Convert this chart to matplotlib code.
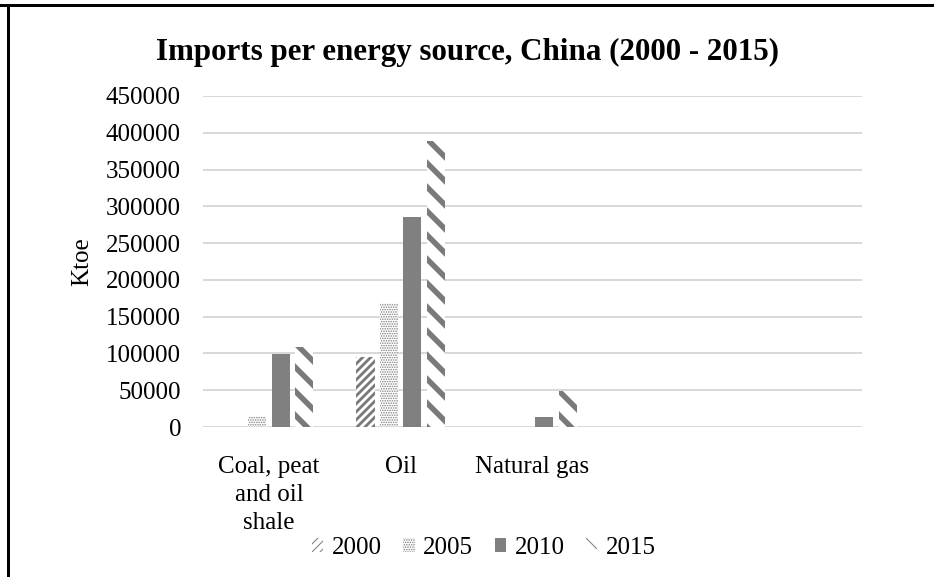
import numpy as np
import matplotlib
matplotlib.use("Agg")
import matplotlib.pyplot as plt
from matplotlib.lines import Line2D


categories = ["Coal, peat\nand oil\nshale", "Oil", "Natural gas", "", ""]
years = ["2000", "2005", "2010", "2015"]
v2000 = [0, 94500, 0]
v2005 = [14500, 168000, 0]
v2010 = [99000, 286000, 13000]
v2015 = [109000, 389000, 49000]
yticks = [0, 50000, 100000, 150000, 200000, 250000, 300000, 350000, 400000, 450000]

series = [v2000, v2005, v2010, v2015]
# (facecolor, hatch colour, hatch, hatch linewidth)
styles = [
    ("white", "#7a7a7a", "///", 2.8),
    ("white", "#7d7d7d", ".....", 1.0),
    ("#808080", "#808080", None, 1.0),
    ("white", "#7a7a7a", "\\", 5.5),
]

plt.rcParams["font.family"] = ["Liberation Serif", "DejaVu Serif"]

DPI = 72
fig = plt.figure(figsize=(934 / DPI, 577 / DPI), dpi=DPI)
ax = fig.add_axes([203 / 934, 1 - 427 / 577, 659 / 934, 331 / 577])

slot = 0.178
width = 0.137
for i, (vals, year, st) in enumerate(zip(series, years, styles)):
    face, hcol, hatch, hlw = st
    x = np.arange(len(vals)) + (i - 1.5) * slot
    with plt.rc_context({"hatch.linewidth": hlw}):
        bars = ax.bar(x, vals, width=width, color=face, edgecolor=hcol,
                      hatch=hatch, linewidth=0, label=year, zorder=3)
    for b in bars:
        if hasattr(b, "set_hatch_linewidth"):
            b.set_hatch_linewidth(hlw)

ax.set_xlim(-0.5, len(categories) - 0.5)
ax.set_ylim(0, 450000)
ax.set_yticks(yticks)
ax.set_yticklabels([str(t) for t in yticks])
ax.set_xticks(np.arange(len(categories)))
ax.set_xticklabels(categories, linespacing=1.36)
ax.tick_params(axis="both", length=0, labelsize=25, colors="#000000")
ax.tick_params(axis="y", pad=22)
ax.tick_params(axis="x", pad=29)
ax.yaxis.grid(True, color="#d9d9d9", linewidth=2, zorder=0)
ax.set_axisbelow(True)
for s in ["top", "right", "left", "bottom"]:
    ax.spines[s].set_visible(False)
ax.axhline(0, color="#d9d9d9", linewidth=2, zorder=1)

ax.set_ylabel("Ktoe", fontsize=25, labelpad=13)

fig.text(468 / 934, 1 - 52 / 577, "Imports per energy source, China (2000 - 2015)",
         ha="center", va="center", fontsize=31, fontweight="bold")

fig.legend(loc="center", bbox_to_anchor=(484 / 934, 1 - 548 / 577), ncol=4,
           frameon=False, fontsize=25, handlelength=0.45, handleheight=0.45,
           handletextpad=0.35, columnspacing=0.85)

# chart border (top and left edges only, as in the source image)
fig.add_artist(Line2D([0, 1], [1 - 5 / 577, 1 - 5 / 577], color="black", linewidth=3,
                      transform=fig.transFigure))
fig.add_artist(Line2D([8 / 934, 8 / 934], [0, 1 - 5 / 577], color="black", linewidth=3,
                      transform=fig.transFigure))

fig.savefig("out.png", dpi=DPI, facecolor="white")
